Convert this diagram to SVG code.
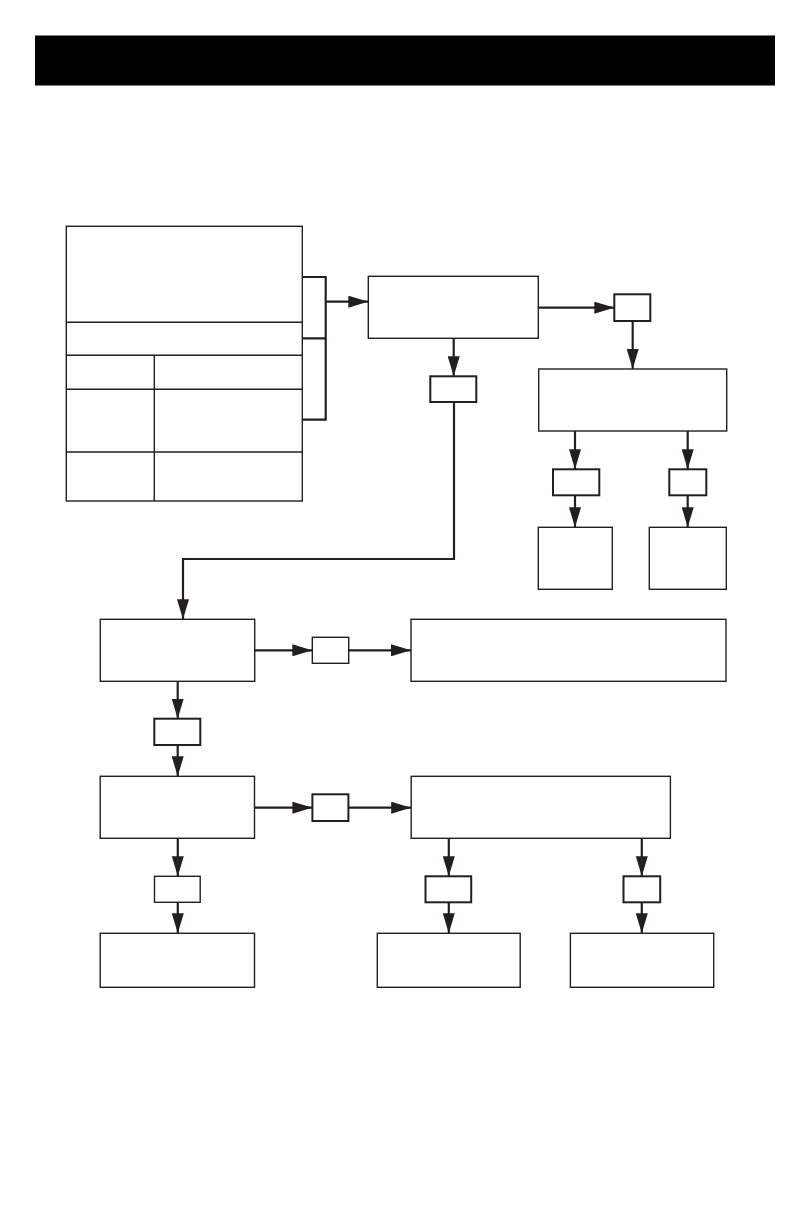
<svg xmlns="http://www.w3.org/2000/svg" width="792" height="1224" viewBox="0 0 792 1224">
<style>
.box{fill:#fff;stroke:#231f20;stroke-width:1.4}
.sbox{fill:#fff;stroke:#231f20;stroke-width:2}
.ln{fill:none;stroke:#231f20;stroke-width:1.4}
.con{fill:none;stroke:#231f20;stroke-width:2.2}
.arr{fill:none;stroke:#231f20;stroke-width:2.2;marker-end:url(#ah)}
</style>
<defs>
<marker id="ah" markerUnits="userSpaceOnUse" markerWidth="20" markerHeight="12" refX="20" refY="6" orient="auto">
<path d="M0,0 L20,6 L0,12 z" fill="#231f20"/>
</marker>
</defs>
<rect x="0" y="0" width="792" height="1224" fill="#fff"/>
<g id="header"><rect x="35" y="35.5" width="740" height="50" fill="#000"/></g>

<g id="connectors">
<path class="con" d="M302.3,277 H325.7 V419.7 H302.3 M302.3,338.3 H325.7"/>
<path class="arr" d="M325.7,301.7 H368.3"/>
<path class="arr" d="M538.3,307.7 H614.3"/>
<path class="arr" d="M632.7,321 V369"/>
<path class="arr" d="M453.7,338.3 V376.3"/>
<path class="arr" d="M454,402 V559 H183 V619.3"/>
<path class="arr" d="M575,431 V469.3"/>
<path class="arr" d="M575,495.3 V527.3"/>
<path class="arr" d="M687.7,431 V469.3"/>
<path class="arr" d="M687.7,495.3 V527.3"/>
<path class="arr" d="M254.7,650.3 H312.3"/>
<path class="arr" d="M348.7,650.3 H411"/>
<path class="arr" d="M177.7,681.3 V718.7"/>
<path class="arr" d="M177.7,745 V776.3"/>
<path class="arr" d="M254.5,807.7 H312.4"/>
<path class="arr" d="M348.4,807.7 H411.2"/>
<path class="arr" d="M177.8,838.3 V876.3"/>
<path class="arr" d="M177.8,902.3 V933.3"/>
<path class="arr" d="M448.8,838.3 V876.3"/>
<path class="arr" d="M448.8,902.3 V933.3"/>
<path class="arr" d="M641.8,838.3 V876.3"/>
<path class="arr" d="M641.8,902.3 V933.3"/>
</g>

<g id="table">
<rect class="box" x="66.3" y="226.3" width="236" height="274.7"/>
<path class="ln" d="M66.3,322.3 H302.3 M66.3,355.3 H302.3 M66.3,389.3 H302.3 M66.3,452 H302.3 M154.3,355.3 V501"/>
</g>
<g id="nodeA"><rect class="box" x="368.3" y="276.3" width="170" height="62"/></g>
<g id="nodeB"><rect class="sbox" x="614.3" y="294.3" width="36" height="26.7"/></g>
<g id="nodeC"><rect class="box" x="538.7" y="369" width="188" height="62"/></g>
<g id="nodeD"><rect class="sbox" x="430.3" y="376.3" width="46" height="25.7"/></g>
<g id="nodeC1"><rect class="sbox" x="553" y="469.3" width="46.3" height="26"/></g>
<g id="nodeC2"><rect class="sbox" x="669.3" y="469.3" width="37" height="26"/></g>
<g id="nodeC1b"><rect class="box" x="538.3" y="527.3" width="74" height="62"/></g>
<g id="nodeC2b"><rect class="box" x="649.3" y="527.3" width="77" height="62"/></g>
<g id="nodeE"><rect class="box" x="100.3" y="619.3" width="154.4" height="62"/></g>
<g id="nodeF"><rect class="box" x="312.3" y="637.3" width="36.4" height="26"/></g>
<g id="nodeG"><rect class="box" x="411" y="619.3" width="315" height="62"/></g>
<g id="nodeH"><rect class="sbox" x="154.3" y="718.7" width="46" height="26.3"/></g>
<g id="nodeI"><rect class="box" x="100.2" y="776.3" width="154.3" height="62"/></g>
<g id="nodeJ"><rect class="sbox" x="312.4" y="794.3" width="36" height="26.7"/></g>
<g id="nodeK"><rect class="box" x="411.2" y="776.3" width="259.2" height="62"/></g>
<g id="nodeL"><rect class="box" x="154.5" y="876.3" width="45.7" height="26"/></g>
<g id="nodeM"><rect class="sbox" x="425.5" y="876.3" width="45.7" height="26"/></g>
<g id="nodeN"><rect class="sbox" x="623.5" y="876.3" width="36.7" height="26"/></g>
<g id="nodeO"><rect class="box" x="100.2" y="933.3" width="154.3" height="54"/></g>
<g id="nodeP"><rect class="box" x="377.3" y="933.3" width="142.9" height="54"/></g>
<g id="nodeQ"><rect class="box" x="570.4" y="933.3" width="143.3" height="54"/></g>
</svg>
